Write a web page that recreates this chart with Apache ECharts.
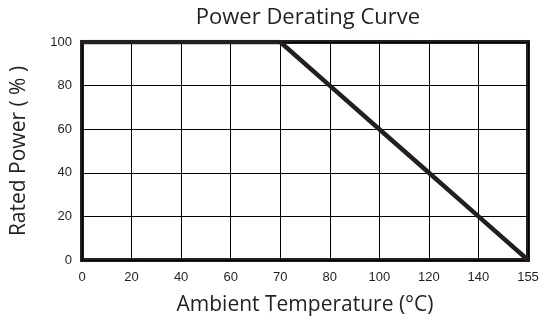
<!DOCTYPE html>
<html><head><meta charset="utf-8">
<script src="https://cdn.jsdelivr.net/npm/echarts@6/dist/echarts.min.js"></script>
<style>html,body{margin:0;padding:0;background:#fff}#c{width:548px;height:321px}</style>
</head><body><div id="c"></div>
<script>
const categories = ['0','20','40','60','70','80','100','120','140','155'];
const ratedPower = [100,100,100,100,100,80,60,40,20,0];
const yTicks = {min:0, max:100, interval:20};
const chart = echarts.init(document.getElementById('c'), null, {renderer:'canvas'});
const dark = '#231f20';
chart.setOption({
  animation:false,
  title:{text:'Power Derating Curve', left:303, top:2, textAlign:'center',
    textStyle:{fontFamily:'Open Sans', fontWeight:'normal', fontSize:22, color:dark}},
  grid:{left:82, right:20, top:42, bottom:61, outerBoundsMode:'none', show:true, borderWidth:4, borderColor:dark, backgroundColor:'transparent'},
  xAxis:{type:'category', data:categories, boundaryGap:false,
    axisLine:{show:false}, axisTick:{show:false},
    axisLabel:{margin:11, fontFamily:'Liberation Sans', fontSize:13, color:dark},
    splitLine:{show:true, lineStyle:{color:'#000', width:1}},
    name:'Ambient Temperature (°C)', nameLocation:'middle', nameGap:35,
    nameTextStyle:{fontFamily:'Open Sans', fontSize:21, color:dark}},
  yAxis:{type:'value', min:yTicks.min, max:yTicks.max, interval:yTicks.interval,
    axisLine:{show:false}, axisTick:{show:false},
    axisLabel:{margin:10, fontFamily:'Liberation Sans', fontSize:13, color:dark},
    splitLine:{show:true, lineStyle:{color:'#000', width:1}},
    name:'Rated Power ( % )', nameLocation:'middle', nameGap:52,
    nameTextStyle:{fontFamily:'Open Sans', fontSize:21, color:dark}},
  series:[{type:'line', data:ratedPower, symbol:'none',
    lineStyle:{color:dark, width:4.5}}]
});
</script></body></html>
